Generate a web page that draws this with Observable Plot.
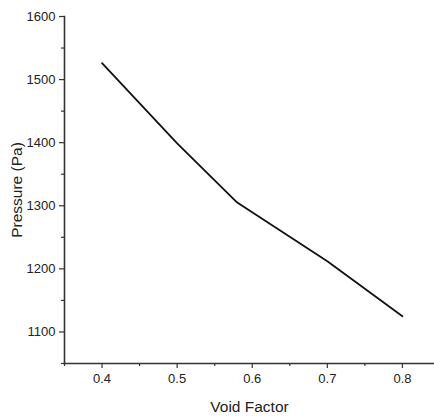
<!DOCTYPE html>
<html>
<head>
<meta charset="utf-8">
<script src="https://cdn.jsdelivr.net/npm/d3@7"></script>
<script src="https://cdn.jsdelivr.net/npm/@observablehq/plot@0.6"></script>
<style>
  html, body { margin: 0; padding: 0; background: #fff; overflow: hidden; }
  #chart svg { display: block; }
</style>
</head>
<body>
<div id="chart"></div>
<script>
const voidFactor = [0.4, 0.5, 0.58, 0.7, 0.8];
const pressure = [1526, 1399, 1305, 1212, 1125];
const xMajorTicks = [0.4, 0.5, 0.6, 0.7, 0.8];
const xMinorTicks = [0.35, 0.45, 0.55, 0.65, 0.75];
const yMajorTicks = [1100, 1200, 1300, 1400, 1500, 1600];
const yMinorTicks = [1050, 1150, 1250, 1350, 1450, 1550];
const xTitle = "Void Factor";
const yTitle = "Pressure (Pa)";

const data = voidFactor.map((v, i) => ({v, p: pressure[i]}));
const axisColor = "#333";

const chart = Plot.plot({
  width: 434,
  height: 417,
  marginLeft: 64,
  marginRight: 0,
  marginTop: 16,
  marginBottom: 54,
  style: {fontFamily: "'Liberation Sans', Arial, sans-serif", fontSize: "13px", background: "#fff", color: "#222"},
  x: {domain: [0.35, 0.8427]},
  y: {domain: [1050, 1600]},
  marks: [
    Plot.axisX({ticks: xMajorTicks, tickSize: 5, tickPadding: 5, tickFormat: d3.format(".1f"),
      fontSize: 13, stroke: axisColor, strokeWidth: 1.2, fill: "#222", label: null}),
    Plot.axisX({ticks: xMinorTicks, tickSize: 3, text: null, label: null, stroke: axisColor, strokeWidth: 1.2}),
    Plot.axisY({ticks: yMajorTicks, tickSize: 5, tickPadding: 4, tickFormat: d3.format("d"), fontSize: 13,
      stroke: axisColor, strokeWidth: 1.2, fill: "#222", label: null}),
    Plot.axisY({ticks: yMinorTicks, tickSize: 3, text: null, label: null, stroke: axisColor, strokeWidth: 1.2}),
    Plot.frame({anchor: "left", stroke: axisColor, strokeWidth: 1.6}),
    Plot.frame({anchor: "bottom", stroke: axisColor, strokeWidth: 1.6}),
    Plot.text([xTitle], {frameAnchor: "bottom", textAnchor: "middle", lineAnchor: "middle", dy: 44, fontSize: 15.5, fill: "#222"}),
    Plot.text([yTitle], {frameAnchor: "left", textAnchor: "middle", lineAnchor: "middle", rotate: -90, dx: -47, fontSize: 15.5, fill: "#222"}),
    Plot.line(data, {x: "v", y: "p", stroke: "#111", strokeWidth: 1.8})
  ]
});
document.getElementById("chart").append(chart);
</script>
</body>
</html>
